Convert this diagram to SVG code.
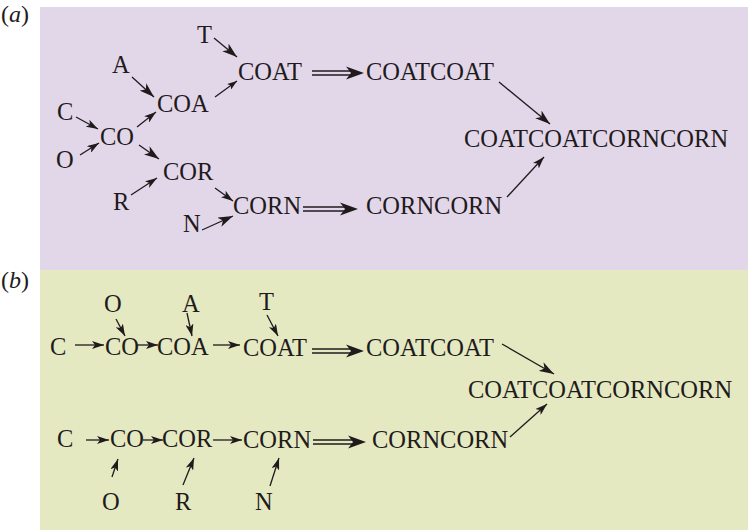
<svg xmlns="http://www.w3.org/2000/svg" width="748" height="530" viewBox="0 0 748 530">
<style>
text{font-family:"Liberation Serif","Times New Roman",serif;font-size:24.5px;fill:#1f1b1c}
.lbl{font-size:24px}
.c line{stroke:#1f1b1c;stroke-width:1.3;fill:none}
.c line.m{marker-end:url(#hm)}
.c line.l{marker-end:url(#hl)}
.c line.s{marker-end:url(#hs)}
.c path{fill:#1f1b1c;stroke:none}
</style>
<defs>
<marker id="hs" markerUnits="userSpaceOnUse" markerWidth="10" markerHeight="7" refX="10" refY="3.5" orient="auto"><path d="M0,0 L10,3.5 L0,7 L2.5,3.5 Z" fill="#1f1b1c"/></marker>
<marker id="hm" markerUnits="userSpaceOnUse" markerWidth="12" markerHeight="8" refX="12" refY="4" orient="auto"><path d="M0,0 L12,4 L0,8 L3,4 Z" fill="#1f1b1c"/></marker>
<marker id="hl" markerUnits="userSpaceOnUse" markerWidth="15" markerHeight="10" refX="15" refY="5" orient="auto"><path d="M0,0 L15,5 L0,10 L4,5 Z" fill="#1f1b1c"/></marker>
</defs>
<rect x="40" y="7" width="708" height="263" fill="#e2d7e9"/>
<rect x="40" y="270" width="708" height="260" fill="#e4e9c1"/>
<text class="lbl" x="1" y="22">(<tspan font-style="italic">a</tspan>)</text>
<text class="lbl" x="1" y="288">(<tspan font-style="italic">b</tspan>)</text>

<g class="c" id="connectors">
<line class="l" x1="214" y1="38" x2="237" y2="57"/>
<line class="s" x1="215" y1="97" x2="237" y2="81"/>
<line class="l" x1="132" y1="77" x2="154" y2="97"/>
<line class="m" x1="76" y1="117" x2="98" y2="129"/>
<line class="m" x1="80" y1="155" x2="99" y2="143"/>
<line class="m" x1="137" y1="127" x2="156" y2="112"/>
<line class="l" x1="139" y1="145" x2="159" y2="159"/>
<line class="m" x1="131" y1="195" x2="157" y2="178"/>
<line class="m" x1="215" y1="188" x2="233" y2="201"/>
<line class="l" x1="202" y1="230" x2="233" y2="216"/>
<line class="l" x1="499" y1="82" x2="550" y2="124"/>
<line class="m" x1="507" y1="197" x2="544" y2="157"/>
<line x1="312" y1="71" x2="355" y2="71"/><line x1="312" y1="75" x2="355" y2="75"/>
<path d="M364,73 L346,66.5 L351,73 L346,79.5 Z"/>
<line x1="303" y1="207" x2="349" y2="207"/><line x1="303" y1="211" x2="349" y2="211"/>
<path d="M358,209 L340,202.5 L345,209 L340,215.5 Z"/>

<line class="m" x1="75" y1="345" x2="104" y2="345"/>
<line class="m" x1="137" y1="345" x2="158" y2="345"/>
<line class="m" x1="213" y1="345" x2="240" y2="345"/>
<line class="m" x1="116" y1="319" x2="125" y2="336"/>
<line class="m" x1="187" y1="313" x2="192" y2="336"/>
<line class="m" x1="267" y1="315" x2="278" y2="336"/>
<line x1="312" y1="349" x2="355" y2="349"/><line x1="312" y1="353" x2="355" y2="353"/>
<path d="M364,351 L346,344.5 L351,351 L346,357.5 Z"/>
<line class="l" x1="502" y1="344" x2="554" y2="374"/>
<line class="m" x1="86" y1="440" x2="109" y2="440"/>
<line class="m" x1="143" y1="440" x2="163" y2="440"/>
<line class="m" x1="213" y1="440" x2="242" y2="440"/>
<line class="m" x1="112" y1="477" x2="118" y2="459"/>
<line class="m" x1="183" y1="485" x2="194" y2="458"/>
<line class="m" x1="270" y1="486" x2="279" y2="458"/>
<line x1="313" y1="440" x2="357" y2="440"/><line x1="313" y1="444" x2="357" y2="444"/>
<path d="M366,442 L348,435.5 L353,442 L348,448.5 Z"/>
<line class="m" x1="510" y1="437" x2="547" y2="404"/>
</g>

<g id="a-T"><text x="197" y="43">T</text></g>
<g id="a-A"><text x="112" y="73">A</text></g>
<g id="a-COA"><text x="157" y="112">COA</text></g>
<g id="a-C"><text x="57" y="120">C</text></g>
<g id="a-CO"><text x="100" y="145">CO</text></g>
<g id="a-O"><text x="56" y="168">O</text></g>
<g id="a-COR"><text x="163" y="180">COR</text></g>
<g id="a-R"><text x="113" y="210">R</text></g>
<g id="a-CORN"><text x="233" y="214">CORN</text></g>
<g id="a-N"><text x="183" y="232">N</text></g>
<g id="a-COAT"><text x="238" y="80">COAT</text></g>
<g id="a-COATCOAT"><text x="366" y="80">COATCOAT</text></g>
<g id="a-CORNCORN"><text x="366" y="214">CORNCORN</text></g>
<g id="a-final"><text x="464" y="147">COATCOATCORNCORN</text></g>

<g id="b-O1"><text x="104" y="312">O</text></g>
<g id="b-A"><text x="182" y="312">A</text></g>
<g id="b-T"><text x="259" y="310">T</text></g>
<g id="b-C1"><text x="50" y="355">C</text></g>
<g id="b-CO1"><text x="105" y="355">CO</text></g>
<g id="b-COA"><text x="157" y="355">COA</text></g>
<g id="b-COAT"><text x="243" y="356">COAT</text></g>
<g id="b-COATCOAT"><text x="366" y="356">COATCOAT</text></g>
<g id="b-final"><text x="468" y="398">COATCOATCORNCORN</text></g>
<g id="b-C2"><text x="57" y="447">C</text></g>
<g id="b-CO2"><text x="110" y="447">CO</text></g>
<g id="b-COR"><text x="162" y="447">COR</text></g>
<g id="b-CORN"><text x="243" y="448">CORN</text></g>
<g id="b-CORNCORN"><text x="372" y="448">CORNCORN</text></g>
<g id="b-O2"><text x="102" y="510">O</text></g>
<g id="b-R"><text x="175" y="510">R</text></g>
<g id="b-N"><text x="255" y="510">N</text></g>
</svg>
